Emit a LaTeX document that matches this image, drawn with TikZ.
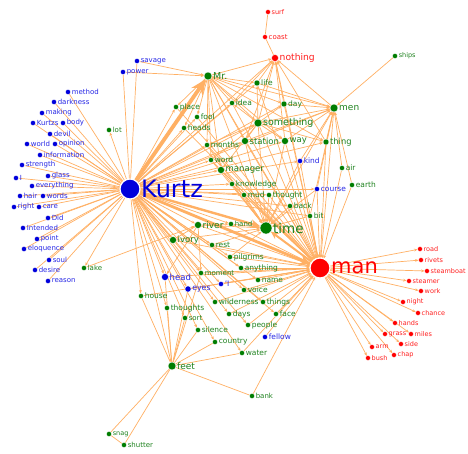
\documentclass[tikz,border=0pt]{standalone}
\usepackage{fontspec}
\setmainfont{DejaVu Sans}
\usetikzlibrary{arrows.meta}
\definecolor{bdot}{RGB}{0,0,220}
\definecolor{btext}{RGB}{40,40,230}
\definecolor{gdot}{RGB}{0,125,0}
\definecolor{gtext}{RGB}{30,130,30}
\definecolor{rdot}{RGB}{255,0,0}
\definecolor{rtext}{RGB}{255,30,30}
\definecolor{eor}{RGB}{255,176,100}
\pgfdeclarelayer{bg}
\pgfsetlayers{bg,main}
\tikzset{
  dot/.style={circle,inner sep=0pt,outer sep=0pt,draw=white,line width=0.4pt},
  B/.style={dot,fill=bdot,minimum size=#1}, B/.default=5.2pt,
  G/.style={dot,fill=gdot,minimum size=#1}, G/.default=5.2pt,
  R/.style={dot,fill=rdot,minimum size=#1}, R/.default=5pt,
  lb/.style={text=btext,inner sep=0.4pt,font=\fontsize{#1}{#1}\selectfont},
  lg/.style={text=gtext,inner sep=0.4pt,font=\fontsize{#1}{#1}\selectfont},
  lr/.style={text=rtext,inner sep=0.4pt,font=\fontsize{#1}{#1}\selectfont},
  e/.style={draw=eor,line width=0.7pt,-{Stealth[length=3.4pt,width=2.8pt]}},
  ln/.style={draw=eor,line width=0.7pt},
  thick edge/.style={draw=eor,line width=#1,-{Stealth[length=4*#1,width=3.6*#1]}},
}
\newcommand\nd[6]{\node[#4,label={[#5]0:#6}] (#1) at (#2,#3) {};}
\begin{document}
\begin{tikzpicture}[x=1pt,y=-1pt,label distance=0.6pt]
\useasboundingbox (0,0) rectangle (468,453);
% ---------- blue nodes ----------
\nd{Kurtz}{130}{189}{B=20pt,line width=1.2pt}{lb=24,text=bdot}{Kurtz}
\nd{savage}{137}{61}{B}{lb=7}{savage}
\nd{power}{123}{72}{B}{lb=7}{power}
\nd{method}{68}{92}{B}{lb=7}{method}
\nd{darkness}{54}{102}{B}{lb=7}{darkness}
\nd{making}{42}{113}{B}{lb=7}{making}
\nd{Kurtzs}{33}{123}{B}{lb=7}{Kurtzs}
\nd{body}{63}{123}{B}{lb=7}{body}
\nd{devil}{50}{134}{B}{lb=7}{devil}
\nd{world}{27}{144}{B}{lb=7}{world}
\nd{opinion}{55}{144}{B}{lb=7}{opinion}
\nd{information}{40}{155}{B}{lb=7}{information}
\nd{strength}{22}{165}{B}{lb=7}{strength}
\nd{iI}{16}{178}{B}{lb=7}{I}
\nd{glass}{48}{176}{B}{lb=7}{glass}
\nd{everything}{32}{186}{B}{lb=7}{everything}
\nd{hair}{20}{196}{B}{lb=7}{hair}
\nd{words}{43}{196}{B}{lb=7}{words}
\nd{rightn}{14}{207}{B}{lb=7}{right}
\nd{care}{39}{207}{B}{lb=7}{care}
\nd{Did}{48}{218}{B}{lb=7}{Did}
\nd{Intended}{23}{228}{B}{lb=7}{Intended}
\nd{point}{37}{239}{B}{lb=7}{point}
\nd{eloquence}{24}{249}{B}{lb=7}{eloquence}
\nd{soul}{49}{260}{B}{lb=7}{soul}
\nd{desire}{35}{270}{B}{lb=7}{desire}
\nd{reason}{48}{281}{B}{lb=7}{reason}
\nd{kind}{300}{161}{B}{lb=7.5}{kind}
\nd{course}{317}{189}{B}{lb=7.5}{course}
\nd{fellow}{265}{337}{B}{lb=7.5}{fellow}
\nd{nI}{221}{284}{B}{lb=7.5}{'I}
\nd{head}{165}{277}{B=7pt}{lb=8.5}{head}
\nd{eyes}{188}{289}{B=6.2pt}{lb=7.8}{eyes}
% ---------- green nodes ----------
\nd{mr}{208}{76}{G=8pt}{lg=9.5}{Mr.}
\nd{something}{258}{123}{G=8pt}{lg=9.5}{something}
\nd{men}{334}{108}{G=8pt}{lg=9}{men}
\nd{station}{245}{141}{G=7pt}{lg=8.5}{station}
\nd{way}{285}{141}{G=7pt}{lg=8.5}{way}
\nd{manager}{221}{170}{G=7pt}{lg=8.5}{manager}
\nd{river}{198}{225}{G=7pt}{lg=9}{river}
\nd{ivory}{173}{240}{G=7pt}{lg=8.5}{ivory}
\nd{feet}{172}{366}{G=8pt}{lg=9}{feet}
\nd{time}{266}{228}{G=12pt}{lg=13.5}{time}
\nd{thing}{326}{142}{G=6pt}{lg=8.3}{thing}
\nd{lot}{109}{130}{G}{lg=7}{lot}
\nd{lake}{84}{268}{G}{lg=7}{lake}
\nd{house}{141}{296}{G}{lg=7.5}{house}
\nd{place}{176}{107}{G}{lg=7.5}{place}
\nd{fool}{197}{117}{G}{lg=7.5}{fool}
\nd{heads}{184}{128}{G}{lg=7.5}{heads}
\nd{life}{257}{83}{G=6pt}{lg=7.5}{life}
\nd{idea}{232}{103}{G}{lg=7.5}{idea}
\nd{day}{284}{104}{G=6pt}{lg=7.5}{day}
\nd{months}{207}{145}{G}{lg=7.5}{months}
\nd{word}{211}{160}{G}{lg=7.5}{word}
\nd{air}{342}{168}{G}{lg=7.5}{air}
\nd{earth}{352}{185}{G}{lg=7.5}{earth}
\nd{knowledge}{232}{184}{G}{lg=7.5}{knowledge}
\nd{mud}{244}{195}{G}{lg=7.5}{mud}
\nd{thought}{269}{195}{G}{lg=7.5}{thought}
\nd{back}{290}{206}{G}{lg=7.5}{back}
\nd{bit}{310}{216}{G}{lg=7.5}{bit}
\nd{hand}{231}{224}{G}{lg=7}{hand}
\nd{rest}{212}{245}{G}{lg=7.5}{rest}
\nd{pilgrims}{230}{257}{G}{lg=7.5}{pilgrims}
\nd{anything}{241}{268}{G}{lg=7.5}{anything}
\nd{moment}{201}{273}{G}{lg=7}{moment}
\nd{name}{258}{280}{G}{lg=7.5}{name}
\nd{voice}{244}{290}{G}{lg=7.5}{voice}
\nd{thoughts}{167}{308}{G}{lg=7.5}{thoughts}
\nd{wilderness}{215}{302}{G}{lg=7.5}{wilderness}
\nd{things}{263}{302}{G}{lg=7.5}{things}
\nd{days}{229}{314}{G}{lg=7.5}{days}
\nd{face}{276}{314}{G}{lg=7.5}{face}
\nd{sort}{185}{318}{G}{lg=7}{sort}
\nd{people}{248}{325}{G}{lg=7.5}{people}
\nd{silence}{198}{330}{G}{lg=7.5}{silence}
\nd{country}{215}{342}{G}{lg=7.5}{country}
\nd{water}{242}{353}{G}{lg=7.5}{water}
\nd{bank}{252}{396}{G}{lg=7}{bank}
\nd{snag}{109}{434}{G}{lg=6.5}{snag}
\nd{shutter}{124}{445}{G}{lg=7}{shutter}
\nd{ships}{395}{56}{G}{lg=6.5}{ships}
% ---------- red nodes ----------
\nd{man}{320}{268}{R=20pt,line width=1.2pt}{lr=21,text=rdot}{man}
\nd{nothing}{275}{58}{R=7pt}{lr=9.2}{nothing}
\nd{surf}{268}{12}{R}{lr=6.5}{surf}
\nd{coast}{265}{37}{R}{lr=7}{coast}
\nd{road}{420}{249}{R}{lr=6.5}{road}
\nd{rivets}{421}{260}{R}{lr=6.5}{rivets}
\nd{steamboat}{427}{271}{R}{lr=6.5}{steamboat}
\nd{steamer}{409}{281}{R}{lr=6.5}{steamer}
\nd{work}{421}{291}{R}{lr=6.5}{work}
\nd{night}{403}{302}{R}{lr=6.5}{night}
\nd{chance}{418}{313}{R}{lr=6.5}{chance}
\nd{hands}{395}{323}{R}{lr=6.5}{hands}
\nd{grass}{385}{334}{R}{lr=6.5}{grass}
\nd{miles}{411}{334}{R}{lr=6.5}{miles}
\nd{side}{401}{344}{R}{lr=6.5}{side}
\nd{arm}{372}{347}{R}{lr=6.5}{arm}
\nd{chap}{394}{355}{R}{lr=6.5}{chap}
\nd{bush}{368}{358}{R}{lr=6.5}{bush}
% ---------- edges ----------
\begin{pgfonlayer}{bg}
\fill[white] (0,0) rectangle (468,453);
\foreach \t in {savage,power,method,darkness,making,Kurtzs,body,devil,world,opinion,information,strength,iI,glass,everything,hair,words,rightn,care,Did,Intended,point,eloquence,soul,desire,reason}
  \draw[ln] (Kurtz) -- (\t);
\foreach \t in {lot,lake,house,place,fool,heads,months,word,manager,knowledge,station,something,idea,life,day,way,thing,kind,mud,thought,course,back,bit,river,hand,ivory,rest,pilgrims,anything,moment,name,voice,head,eyes,nI,thoughts,wilderness,things,sort,days,face,silence,people,country,water,feet,nothing,men}
  \draw[e] (Kurtz) -- (\t);
\foreach \t in {road,rivets,steamboat,steamer,work,night,chance,hands,grass,miles,side,arm,chap,bush}
  \draw[e] (man) -- (\t);
\foreach \t in {nothing,mr,something,men,station,way,thing,manager,river,ivory,head,eyes,nI,moment,rest,pilgrims,anything,name,voice,wilderness,things,days,face,people,fellow,water,bank,knowledge,mud,thought,back,bit,course,kind,air,earth,day,life,idea,hand,months,word,place,heads,fool,house}
  \draw[e] (\t) -- (man);
\draw[e] (lake) -- (river);
\foreach \t in {place,fool,heads,life,idea,day,something,station,way,men,nothing,months,word,manager,time,thing}
  \draw[e] (mr) -- (\t);
\draw[e] (savage) -- (mr);
\draw[e] (power) -- (mr);
\draw[ln] (surf) -- (coast);
\draw[ln] (coast) -- (nothing);
\foreach \t in {life,idea,day,men,something,station,way,thing}
  \draw[e] (\t) -- (nothing);
\foreach \t in {ships,day,life,something,way,thing,air,earth,course,station,time,kind,bit}
  \draw[e] (\t) -- (men);
\foreach \t in {idea,life,day,station,way,months,word,manager,time,thing}
  \draw[e] (something) -- (\t);
\foreach \t in {station,way,manager,knowledge,mud,thought,back,bit,river,hand,ivory,rest,pilgrims,word,months,kind,course}
  \draw[e] (\t) -- (time);
\foreach \t in {snag,shutter,bank,water,silence,house,head,thoughts,eyes,sort,country,moment}
  \draw[ln] (feet) -- (\t);
\draw[ln] (snag) -- (shutter);
\foreach \t in {ivory,hand,head,moment}
  \draw[e] (river) -- (\t);
\draw[thick edge=3.8pt] (Kurtz) -- (mr);
\draw[thick edge=2.4pt] (Kurtz) -- (time);
\draw[thick edge=2.8pt] (Kurtz) -- (man);
\draw[thick edge=2pt] (man) -- (time);
\end{pgfonlayer}
\end{tikzpicture}
\end{document}
